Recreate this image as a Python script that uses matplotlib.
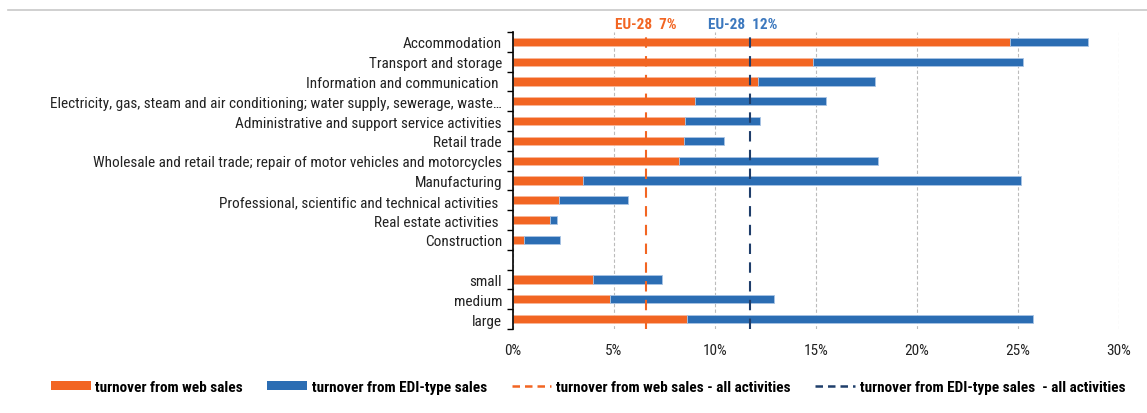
import matplotlib
matplotlib.use("Agg")
import matplotlib.pyplot as plt
from matplotlib import font_manager
from matplotlib.lines import Line2D
from matplotlib.patches import Patch
import numpy as np

# prefer a narrow font like the original, else shrink a normal one
names = {f.name for f in font_manager.fontManager.ttflist}
font = "Liberation Sans"
scale = 0.92
for cand in ["Liberation Sans Narrow", "Roboto Condensed", "DejaVu Sans Condensed"]:
    if cand in names:
        font, scale = cand, 1.05
        break
plt.rcParams["font.family"] = [font, "DejaVu Sans"]
fs = 10.5 * scale

categories = [
    "Accommodation",
    "Transport and storage",
    "Information and communication ",
    "Electricity, gas, steam and air conditioning; water supply, sewerage, waste\u2026",
    "Administrative and support service activities",
    "Retail trade",
    "Wholesale and retail trade; repair of motor vehicles and motorcycles",
    "Manufacturing",
    "Professional, scientific and technical activities ",
    "Real estate activities ",
    "Construction",
    "",
    "small",
    "medium",
    "large",
]
web_sales = [24.6, 14.85, 12.15, 9.0, 8.5, 8.45, 8.2, 3.45, 2.3, 1.85, 0.55, np.nan, 3.95, 4.8, 8.6]
edi_sales = [3.9, 10.4, 5.8, 6.5, 3.75, 2.0, 9.9, 21.7, 3.4, 0.35, 1.8, np.nan, 3.45, 8.15, 17.15]
web_all = 6.6
edi_all = 11.75

orange = "#F26522"
blue = "#2B6DB3"
navy = "#1F3E6B"

W, H = 1147, 414
fig = plt.figure(figsize=(W / 100, H / 100), dpi=100)
ax = fig.add_axes([513 / W, 1 - 330 / H, (1118.5 - 513) / W, (330 - 33) / H])

y = np.arange(len(categories))
ax.barh(y, web_sales, height=0.42, color=orange, edgecolor="#F8B89A", linewidth=0.6, zorder=3)
ax.barh(y, edi_sales, left=web_sales, height=0.42, color=blue, edgecolor="#A9C4E4", linewidth=0.6, zorder=3)

ax.axvline(web_all, color=orange, linestyle=(0, (5, 4)), linewidth=1.5, zorder=4)
ax.axvline(edi_all, color=navy, linestyle=(0, (5, 4)), linewidth=1.5, zorder=4)
ax.text(web_all, 1.005, "EU-28  7%", color=orange, fontsize=fs, fontweight="bold",
        ha="center", va="bottom", transform=ax.get_xaxis_transform())
ax.text(edi_all - 0.35, 1.005, "EU-28  12%", color="#3C78BE", fontsize=fs, fontweight="bold",
        ha="center", va="bottom", transform=ax.get_xaxis_transform())

ax.set_xlim(0, 30)
ax.set_ylim(len(categories) - 0.5, -0.5)
ax.set_xticks(np.arange(0, 31, 5))
ax.set_xticklabels([f"{v}%" for v in range(0, 31, 5)], fontsize=fs, color="#222222")
ax.tick_params(axis="x", length=0, pad=10)
ax.set_yticks(y)
ax.set_yticklabels(categories, fontsize=fs, color="#222222")
ax.set_yticks(np.arange(-0.5, len(categories), 1), minor=True)
ax.tick_params(axis="y", which="major", length=0, pad=8)
ax.tick_params(axis="y", which="minor", length=4, width=1, color="black", direction="out")

ax.grid(axis="x", color="#BBBBBB", linestyle=(0, (3, 2)), linewidth=0.8, zorder=0)
for s in ["top", "right", "bottom"]:
    ax.spines[s].set_visible(False)
ax.spines["left"].set_linewidth(1.2)
ax.spines["left"].set_zorder(5)

# page border line at top
fig.add_artist(Line2D([8 / W, 1], [1 - 11 / H, 1 - 11 / H], color="#C8C8C8", linewidth=1.2))

handles = [
    Patch(facecolor=orange, edgecolor="none"),
    Patch(facecolor=blue, edgecolor="none"),
    Line2D([0], [0], color=orange, linestyle=(0, (3, 2)), linewidth=1.8),
    Line2D([0], [0], color=navy, linestyle=(0, (3, 2)), linewidth=1.8),
]
labels = [
    "turnover from web sales",
    "turnover from EDI-type sales",
    "turnover from web sales - all activities",
    "turnover from EDI-type sales  - all activities",
]
fig.legend(handles, labels, loc="center", bbox_to_anchor=(588 / W, 1 - 388 / H), ncol=4,
           frameon=False, handlelength=2.6, handleheight=0.55,
           handletextpad=0.3, columnspacing=1.6, prop={"weight": "bold", "size": fs})

fig.savefig("out.png", dpi=100)
